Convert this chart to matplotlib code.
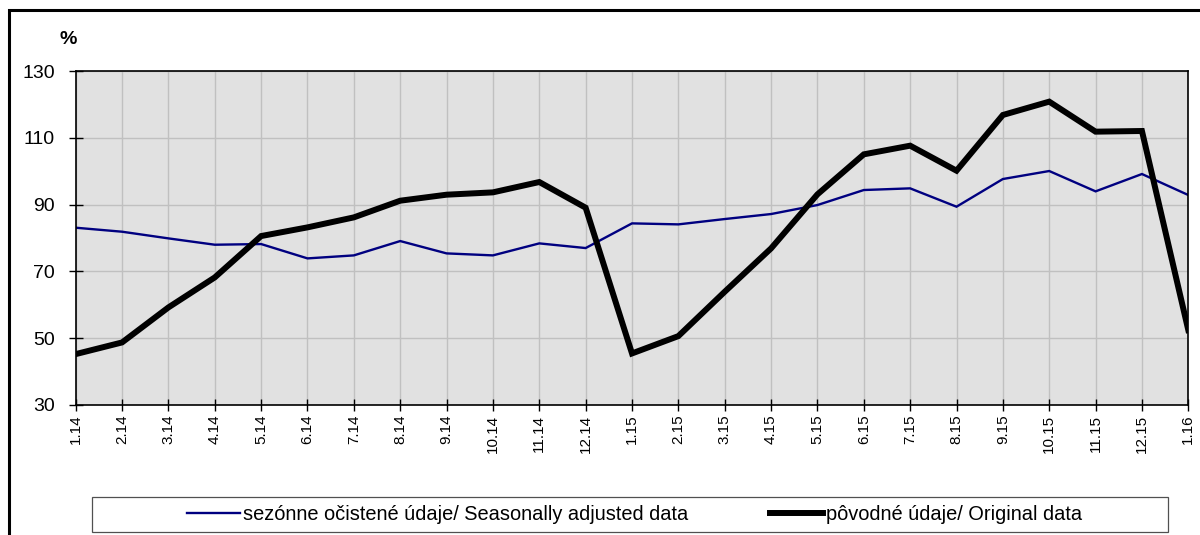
#!/usr/bin/env python3
# -*- coding: utf-8 -*-
import numpy as np
import matplotlib.pyplot as plt
from matplotlib.patches import Rectangle

plt.rcParams['font.family'] = ['Liberation Sans', 'DejaVu Sans']

# data
months   = ["1.14", "2.14", "3.14", "4.14", "5.14", "6.14", "7.14", "8.14", "9.14",
            "10.14", "11.14", "12.14", "1.15", "2.15", "3.15", "4.15", "5.15",
            "6.15", "7.15", "8.15", "9.15", "10.15", "11.15", "12.15", "1.16"]

adjusted = [83.1, 81.9, 79.9, 78.0, 78.2, 73.9, 74.8, 79.1, 75.4, 74.8, 78.4, 77.0,
            84.4, 84.1, 85.7, 87.2, 89.9, 94.4, 94.9, 89.4, 97.7, 100.1, 94.0, 99.2, 92.9]

original = [45.2, 48.7, 59.2, 68.2, 80.6, 83.2, 86.2, 91.2, 93.0, 93.7, 96.8, 89.1,
            45.4, 50.6, 63.9, 76.9, 93.1, 105.1, 107.7, 100.2, 116.9, 120.9, 111.9, 112.1, 52.4]

yticks   = [30, 50, 70, 90, 110, 130]

label_sa   = "sezónne očistené údaje/ Seasonally adjusted data"
label_orig = "pôvodné údaje/ Original data"

W, H = 1200, 535
fig = plt.figure(figsize=(W / 100, H / 100), dpi=100)
ax  = fig.add_axes([75.7 / W, 1 - 404.8 / H, (1188.3 - 75.7) / W, (404.8 - 71.3) / H])

x = np.arange(len(months))
l1, = ax.plot(x, adjusted, color="#000080", lw=1.7, solid_joinstyle="miter")
l2, = ax.plot(x, original, color="black", lw=4.3, solid_joinstyle="miter")

ax.set_facecolor("#e1e1e1")
ax.set_xlim(0, len(months) - 1)
ax.set_ylim(30, 130)
ax.set_xticks(x)
ax.set_xticklabels(months, rotation=90, fontsize=11)
ax.set_yticks(yticks)
ax.set_yticklabels([str(v) for v in yticks], fontsize=14)
ax.grid(True, color="#c0c0c0", lw=1.0)
ax.set_axisbelow(True)
ax.tick_params(axis="y", direction="inout", length=9.5, width=1, pad=10.4)
ax.tick_params(axis="x", direction="inout", length=8, width=1, pad=3)
for s in ax.spines.values():
    s.set_color("black")
    s.set_linewidth(1.2)

fig.text(68 / W, 1 - 39 / H, "%", fontsize=14, fontweight="bold", ha="center", va="center")

# outer frame (cut by the image edges)
fig.patches.append(Rectangle((8.5 / W, -0.1), 1.2, 1.1 - 10 / H, transform=fig.transFigure,
                             fill=False, edgecolor="black", lw=2.2))

# legend box
fig.patches.append(Rectangle((92 / W, 1 - 532 / H), (1168 - 92) / W, 35 / H,
                             transform=fig.transFigure, fill=False, edgecolor="#505050", lw=0.9))
fig.legend([l1, l2], [label_sa, label_orig], loc="center left",
           bbox_to_anchor=(186.7 / W, 1 - 514.5 / H), ncol=2, frameon=False,
           fontsize=14.4, handlelength=2.65, handletextpad=0.15, columnspacing=4.1,
           borderaxespad=0, borderpad=0)

fig.savefig("out.png", dpi=100)
